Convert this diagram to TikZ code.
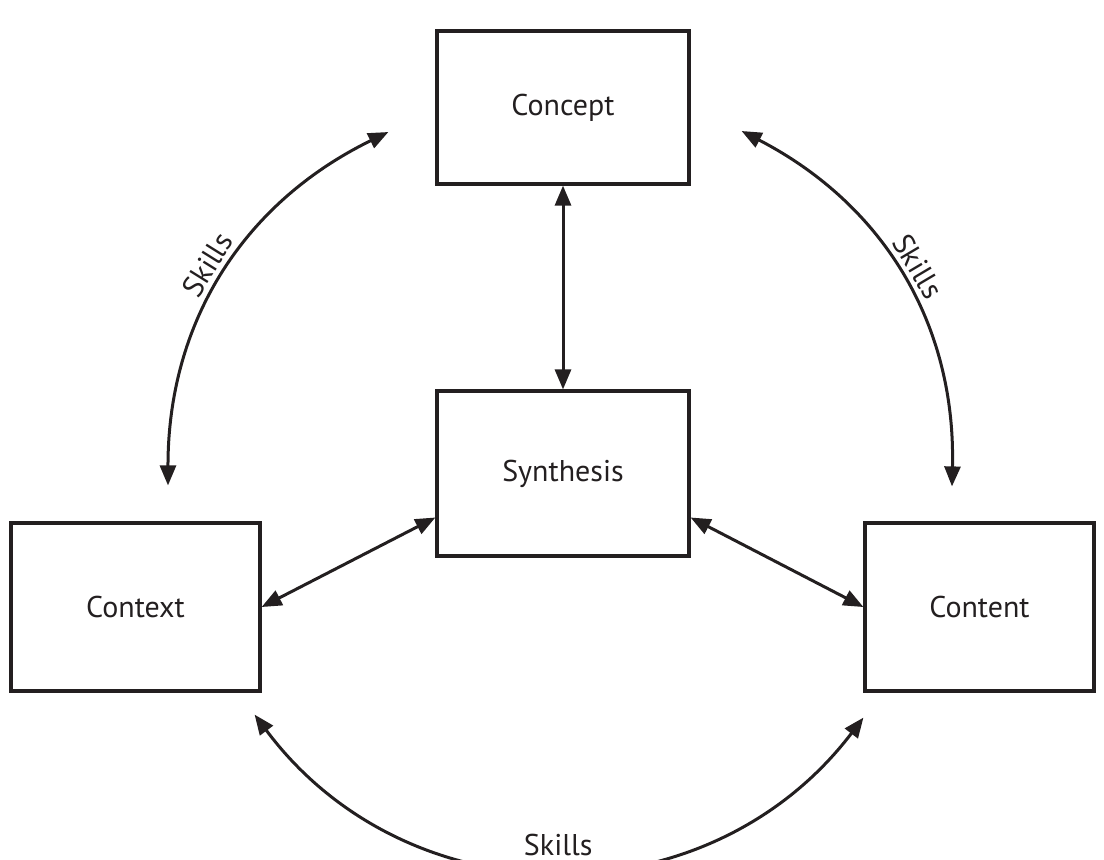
\documentclass[tikz,border=0pt]{standalone}
\usepackage{fontspec}
\setmainfont{PT Sans}
\usetikzlibrary{arrows.meta}
\definecolor{ink}{HTML}{231F20}

\begin{document}
\begin{tikzpicture}[
  x=0.5pt, y=-0.5pt,
  box/.style={draw=ink, line width=1.6pt, minimum height=84pt, align=center, font=\fontsize{15}{18}\selectfont, text=ink},
  arr/.style={{Triangle[length=10pt,width=8pt]}-{Triangle[length=10pt,width=8pt]}, line width=1.5pt, draw=ink},
  skl/.style={font=\fontsize{15}{18}\selectfont, text=ink}
]
  \useasboundingbox (0,0) rectangle (1104,859);
  \node[box, minimum width=126pt, minimum height=76.5pt] (concept) at (563,107.5) {Concept};
  \node[box, minimum width=126pt, minimum height=82.5pt] (syn) at (563,473.5) {Synthesis};
  \node[box, minimum width=124.5pt] (context) at (135.5,607) {Context};
  \node[box, minimum width=114.5pt] (content) at (979.5,607) {Content};
  % straight links to the centre
  \draw[arr] (concept) -- (syn);
  \draw[arr] (context.east) -- ([yshift=-22pt]syn.west);
  \draw[arr] ([yshift=-22pt]syn.east) -- (content.west);
  % skills arcs round the outside
  \draw[arr] ([shift={(-23.5pt,-12.25pt)}]concept.west) to[bend right=32]
    node[skl, sloped, above] {Skills} ([shift={(16.25pt,18pt)}]context.north);
  \draw[arr] ([shift={(25.5pt,-11.75pt)}]concept.east) to[bend left=32]
    node[skl, sloped, above] {Skills} ([shift={(-13.75pt,17.5pt)}]content.north);
  \draw[arr] ([shift={(-3.5pt,-11pt)}]context.south east) to[bend right=53, looseness=1.08]
    node[skl, fill=white, inner sep=1pt, anchor=south, yshift=5.5pt] {Skills} ([yshift=-12.5pt]content.south west);
\end{tikzpicture}
\end{document}
